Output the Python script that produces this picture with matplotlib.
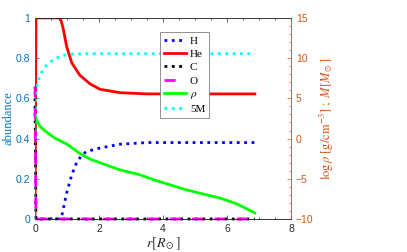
import numpy as np
import matplotlib
matplotlib.use('Agg')
import matplotlib.pyplot as plt
from matplotlib.ticker import MultipleLocator

plt.rcParams['font.family'] = ['Liberation Sans', 'DejaVu Sans']
plt.rcParams['mathtext.fontset'] = 'stix'

# radius grids and profiles
r_h = [0, 0.78, 0.83, 0.99, 1.15, 1.3, 1.45, 1.6, 2.03, 2.66, 3.5, 4.5, 6.87]
h = [0, 0, 0.01, 0.13, 0.22, 0.28, 0.315, 0.335, 0.353, 0.372, 0.38, 0.38, 0.38]

r_he = [0, 0.03, 0.76, 0.82, 0.89, 0.99, 1.15, 1.4, 1.72, 2.03, 2.66, 3.5, 6.87]
he = [0, 1, 1, 0.985, 0.94, 0.857, 0.776, 0.715, 0.672, 0.645, 0.628, 0.622, 0.622]

r_co = [0, 0.03, 6.87]
c = [0.6, 0, 0]
o = [0.66, 0, 0]

r_rho = [0, 0.05, 0.16, 0.3, 0.6, 1.0, 1.4, 1.72, 2.34, 2.66, 3.28, 3.69, 4.75, 5.78, 6.3, 6.6, 6.87]
logrho = [3.0, 2.25, 1.5, 1.0, 0.1, -0.7, -1.85, -2.55, -3.45, -3.9, -4.5, -5.1, -6.4, -7.4, -8.1, -8.7, -9.25]

r_m = [0, 0.01, 0.03, 0.05, 0.1, 0.16, 0.31, 0.47, 0.6, 0.9, 1.2, 1.6, 6.87]
mass = [0, 3.5, 5.5, 6.3, 7.2, 7.9, 8.9, 9.5, 9.9, 10.35, 10.5, 10.55, 10.55]

left_col = (0, 0.447, 0.741)
right_col = (0.85, 0.325, 0.098)
grey = (0.15, 0.15, 0.15)

fig = plt.figure(figsize=(4.07, 2.52), dpi=100)
ax = fig.add_axes([0.086, 0.131, 0.629, 0.798])
ax2 = ax.twinx()

l1, = ax.plot(r_h, h, ls=':', color='blue', lw=2, label='H')
l2, = ax.plot(r_he, he, ls='-', color='red', lw=2, label='He')
l3, = ax.plot(r_co, c, ls=':', color='black', lw=2, label='C', clip_on=False)
l4, = ax.plot(r_co, o, ls=(0, (4, 4)), color='magenta', lw=2, label='O', clip_on=False)
l5, = ax2.plot(r_rho, logrho, ls='-', color=(0, 1, 0), lw=2, label=r'$\rho$')
l6, = ax2.plot(r_m, mass, ls=':', color='cyan', lw=2, label='5M')

ax.set_xlim(0, 8)
ax.set_ylim(0, 1)
ax2.set_ylim(-10, 15)
ax.set_xticks([0, 2, 4, 6, 8])
ax.set_yticks([0, 0.2, 0.4, 0.6, 0.8, 1])
ax.set_yticklabels(['0', '0.2', '0.4', '0.6', '0.8', '1'])
ax.xaxis.set_minor_locator(MultipleLocator(0.5))
ax2.set_yticks([-10, -5, 0, 5, 10, 15])
ax2.yaxis.set_minor_locator(MultipleLocator(1))

ax.tick_params(axis='x', direction='in', top=True, labelsize=7.5, colors=grey, length=3, width=0.5)
ax.tick_params(axis='x', which='minor', direction='in', top=True, length=1.5, width=0.5, colors=grey)
ax.tick_params(axis='y', direction='in', labelsize=7.5, colors=left_col, length=3, width=0.5)
ax2.tick_params(axis='y', direction='in', labelsize=7.5, colors=right_col, length=3, width=0.5)
ax2.tick_params(axis='y', which='minor', direction='in', length=1.5, width=0.5, colors=right_col)

for a in (ax, ax2):
    a.spines['top'].set_color(grey)
    a.spines['bottom'].set_color(grey)
    a.spines['left'].set_color(left_col)
    a.spines['right'].set_color(right_col)
    for s in a.spines.values():
        s.set_linewidth(0.5)

ax.set_xlabel(r'$r[R_\odot]$', fontsize=10, color=grey, labelpad=1)
ax.set_ylabel('abundance', fontsize=9, color=left_col, family='Liberation Serif', labelpad=0.5)
ax2.set_ylabel(r'$\log\rho\ [\mathrm{g/cm^{-3}}]\ ;\ M[M_\odot]$', fontsize=9, color=right_col, labelpad=3)

leg = ax2.legend(handles=[l1, l2, l3, l4, l5, l6], loc='upper right',
                 bbox_to_anchor=(0.68, 0.93), borderaxespad=0, handlelength=2.0,
                 handletextpad=0.3, labelspacing=0.32, borderpad=0.35,
                 fancybox=False, framealpha=1, edgecolor=(0.4, 0.4, 0.4),
                 prop={'family': 'Liberation Serif', 'size': 8})
leg.get_frame().set_linewidth(0.5)

fig.savefig('out.png', dpi=100)
